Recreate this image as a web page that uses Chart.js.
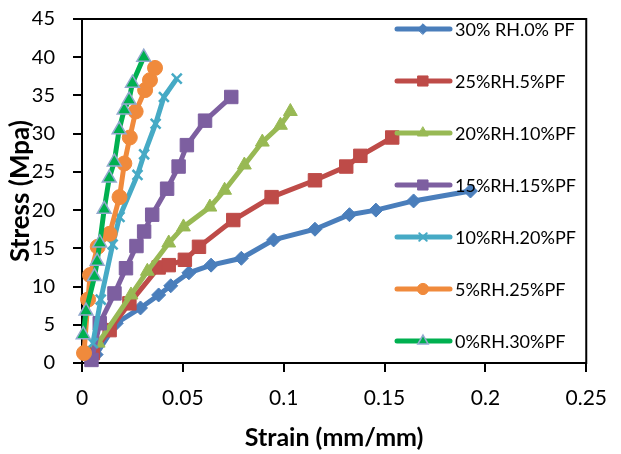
<!DOCTYPE html>
<html>
<head>
<meta charset="utf-8">
<script src="https://cdn.jsdelivr.net/npm/chart.js@4"></script>
<style>
  html, body { margin: 0; padding: 0; background: #fff; }
</style>
</head>
<body>
<canvas id="stressChart" width="621" height="454"></canvas>
<script>
// series names, as in the legend
const seriesNames = ["30% RH.0% PF", "25%RH.5%PF", "20%RH.10%PF", "15%RH.15%PF", "10%RH.20%PF", "5%RH.25%PF", "0%RH.30%PF"];

// strain (mm/mm) and stress (MPa)
const strain30 = [0.007, 0.017, 0.029, 0.038, 0.044, 0.053, 0.064, 0.079, 0.095, 0.1155, 0.1326, 0.1457, 0.1644, 0.1926];
const stress30 = [1.1, 5.2, 7.2, 8.9, 10.1, 11.8, 12.8, 13.7, 16.1, 17.5, 19.4, 20.0, 21.2, 22.5];

const strain25 = [0.0054, 0.0137, 0.0235, 0.038, 0.043, 0.051, 0.058, 0.075, 0.094, 0.1155, 0.131, 0.138, 0.1538];
const stress25 = [1.3, 4.3, 7.8, 12.5, 12.8, 13.5, 15.2, 18.7, 21.7, 23.9, 25.7, 27.1, 29.5];

const strain20 = [0.008, 0.0243, 0.0324, 0.043, 0.0503, 0.0634, 0.0707, 0.0805, 0.0894, 0.0984, 0.1033];
const stress20 = [2.6, 8.9, 12.0, 15.7, 17.8, 20.4, 22.6, 25.9, 28.9, 31.1, 32.9];

const strain15 = [0.0047, 0.0088, 0.0161, 0.0218, 0.027, 0.0308, 0.0348, 0.0422, 0.0479, 0.052, 0.061, 0.074];
const stress15 = [0.4, 5.2, 9.1, 12.4, 15.3, 17.2, 19.4, 22.8, 25.7, 28.5, 31.7, 34.8];

const strain10 = [0.0054, 0.0093, 0.0152, 0.0186, 0.0275, 0.0308, 0.0365, 0.0406, 0.047];
const stress10 = [2.6, 8.3, 15.5, 19.1, 24.6, 27.3, 31.3, 34.8, 37.2];

const strain5 = [0.001, 0.003, 0.004, 0.0078, 0.0137, 0.0186, 0.021, 0.0237, 0.0266, 0.0313, 0.0337, 0.0362];
const stress5 = [1.3, 8.3, 11.5, 15.2, 16.9, 21.7, 26.1, 29.5, 32.9, 35.7, 37.0, 38.6];

const strain0 = [0.0006, 0.002, 0.0062, 0.0075, 0.0088, 0.011, 0.0135, 0.016, 0.0184, 0.0209, 0.0233, 0.025, 0.0306];
const stress0 = [3.7, 6.8, 11.3, 13.3, 15.7, 20.1, 24.2, 26.3, 30.5, 33.1, 34.4, 36.6, 40.0];

const strainTicks = [0, 0.05, 0.1, 0.15, 0.2, 0.25];
const stressTicks = [0, 5, 10, 15, 20, 25, 30, 35, 40, 45];

const allStrain = [strain30, strain25, strain20, strain15, strain10, strain5, strain0];
const allStress = [stress30, stress25, stress20, stress15, stress10, stress5, stress0];

const colors = ["#4A7EBB", "#BE4B48", "#98B954", "#7D5FA0", "#46AAC5", "#F08A3C", "#00B050"];
const shapes = ["rectRot", "rect", "triangle", "rect", "crossRot", "circle", "triangle"];
const sizes = [7, 9.5, 8, 9.5, 7, 7.5, 8];

const FONT = "Lato, 'Open Sans', sans-serif";

const datasets = seriesNames.map((name, i) => ({
    label: name,
    data: allStrain[i].map((x, k) => ({ x: x, y: allStress[i][k] })),
    showLine: true,
    borderColor: colors[i],
    backgroundColor: colors[i],
    borderWidth: 5,
    pointStyle: shapes[i],
    pointRadius: sizes[i],
    pointBackgroundColor: colors[i],
    pointBorderColor: i === 6 ? "#93A9CF" : colors[i],
    pointBorderWidth: i === 6 ? 1.5 : (i === 4 ? 2.5 : 1),
    order: 7 - i,
    clip: false
}));

// legend drawn inside the plot, like the original
const insideLegend = {
    id: "insideLegend",
    beforeDatasetsDraw(chart) {
        const a = chart.chartArea;
        const ctx = chart.ctx;
        ctx.save();
        ctx.strokeStyle = "#000";
        ctx.lineWidth = 2;
        ctx.strokeRect(a.left, a.top, a.right - a.left, a.bottom - a.top);
        ctx.restore();
    },
    afterDatasetsDraw(chart) {
        const ctx = chart.ctx;
        ctx.save();
        seriesNames.forEach((name, i) => {
            const y = 29 + i * 52;
            ctx.strokeStyle = colors[i];
            ctx.lineWidth = 5;
            ctx.lineCap = "round";
            ctx.beginPath();
            ctx.moveTo(397, y);
            ctx.lineTo(450, y);
            ctx.stroke();
            ctx.fillStyle = colors[i];
            ctx.strokeStyle = i === 6 ? "#93A9CF" : colors[i];
            ctx.lineWidth = i === 6 ? 1.5 : (i === 4 ? 2 : 1);
            Chart.helpers.drawPoint(ctx, {
                pointStyle: shapes[i],
                radius: sizes[i] * 0.75,
                borderWidth: ctx.lineWidth
            }, 423, y);
            ctx.fillStyle = "#000";
            ctx.font = "18px " + FONT;
            ctx.textBaseline = "middle";
            ctx.textAlign = "left";
            ctx.fillText(name, 455, y + 1);
        });
        ctx.restore();
    }
};

new Chart(document.getElementById("stressChart"), {
    type: "scatter",
    data: { datasets: datasets },
    plugins: [insideLegend],
    options: {
        responsive: false,
        animation: false,
        layout: { padding: { top: 19, right: 28, left: 0, bottom: 0 } },
        plugins: {
            legend: { display: false },
            tooltip: { enabled: false }
        },
        scales: {
            x: {
                type: "linear",
                min: 0,
                max: 0.25,
                afterBuildTicks: (s) => { s.ticks = strainTicks.map(v => ({ value: v })); },
                afterFit: (s) => { s.height = 91; },
                ticks: {
                    color: "#000",
                    font: { family: FONT, size: 21 },
                    padding: 14,
                    maxRotation: 0,
                    callback: (v) => String(+Number(v).toFixed(2))
                },
                grid: { drawOnChartArea: false, drawTicks: true, tickLength: 9, color: "#000", lineWidth: 2 },
                border: { color: "#000", width: 2 },
                title: {
                    display: true,
                    text: "Strain (mm/mm)",
                    color: "#000",
                    font: { family: FONT, size: 25, weight: "bold" },
                    padding: { top: 0, bottom: 1 }
                }
            },
            y: {
                min: 0,
                max: 45,
                afterBuildTicks: (s) => { s.ticks = stressTicks.map(v => ({ value: v })); },
                afterFit: (s) => { s.width = 82; s.paddingTop = 0; s.paddingBottom = 0; },
                ticks: {
                    color: "#000",
                    font: { family: FONT, size: 20 },
                    padding: 18
                },
                grid: { drawOnChartArea: false, drawTicks: true, tickLength: 9, color: "#000", lineWidth: 2 },
                border: { color: "#000", width: 2 },
                title: {
                    display: true,
                    text: "Stress (Mpa)",
                    color: "#000",
                    font: { family: FONT, size: 26, weight: "bold" },
                    padding: { top: 5, bottom: 0 }
                }
            }
        }
    }
});
</script>
</body>
</html>
